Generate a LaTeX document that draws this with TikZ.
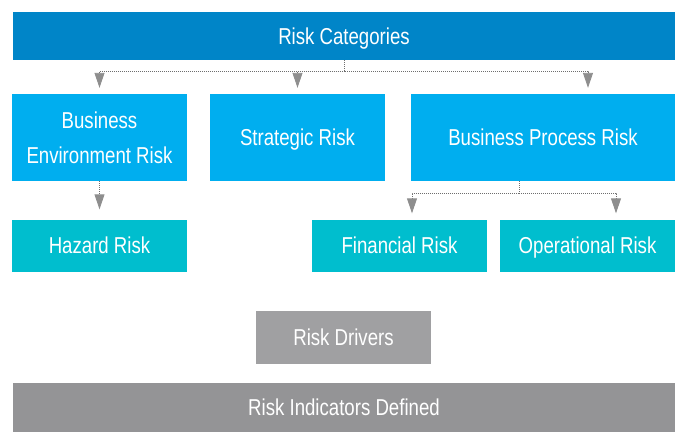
\documentclass[tikz,border=0pt]{standalone}
\usepackage{fontspec}
\setmainfont{Liberation Sans}[FakeStretch=0.81]
\usetikzlibrary{arrows.meta}
\definecolor{catblue}{HTML}{0085C8}
\definecolor{riskblue}{HTML}{00AEEF}
\definecolor{riskteal}{HTML}{00BECE}
\definecolor{drivergray}{HTML}{A0A0A2}
\definecolor{indgray}{HTML}{949496}
\definecolor{linkgray}{HTML}{6E6E6E}
\definecolor{tipgray}{HTML}{8E8E8E}
\begin{document}
\begin{tikzpicture}[x=1pt, y=-1pt,
    box/.style={fill=#1, text=white, inner sep=0pt, align=center, text height=16.5pt, text depth=0pt,
        font=\fontsize{23}{35}\selectfont},
    link/.style={draw=linkgray, line width=0.9pt, dash pattern=on 1pt off 1pt,
        -{Triangle[width=10pt,length=15pt,color=tipgray]}, shorten >=6pt}]
    \useasboundingbox (0,0) rectangle (682,432);

    % Categorie
    \node[box=catblue, minimum width=662pt, minimum height=48pt] (cat) at (344,36) {Risk Categories};

    % Primo livello
    \node[box=riskblue, minimum width=175pt, minimum height=87pt, text height=51.5pt] (ber) at (99.5,137.5) {Business\\Environment Risk};
    \node[box=riskblue, minimum width=175pt, minimum height=87pt] (str) at (297.5,137.5) {Strategic Risk};
    \node[box=riskblue, minimum width=264pt, minimum height=87pt] (bpr) at (543,137.5) {Business Process Risk};

    % Secondo livello
    \node[box=riskteal, minimum width=175pt, minimum height=52pt] (haz) at (99.5,245.5) {Hazard Risk};
    \node[box=riskteal, minimum width=175pt, minimum height=52pt] (fin) at (399.5,245.5) {Financial Risk};
    \node[box=riskteal, minimum width=175pt, minimum height=52pt] (ope) at (587.5,245.5) {Operational Risk};

    % Driver e indicatori
    \node[box=drivergray, minimum width=175pt, minimum height=53pt] (drv) at (343.5,337.5) {Risk Drivers};
    \node[box=indgray, minimum width=662pt, minimum height=49pt] (ind) at (344,407.5) {Risk Indicators Defined};

    % Punti di attacco
    \coordinate (bprin) at ([xshift=45pt]bpr.north);
    \coordinate (bprout) at ([xshift=-24pt]bpr.south);
    \coordinate (finin) at ([xshift=12.5pt]fin.north);
    \coordinate (opein) at ([xshift=28.5pt]ope.north);

    % Collegamenti
    \foreach \target in {ber, str}
        \draw[link] (cat.south) -- ++(0,11) -| (\target.north);
    \draw[link] (cat.south) -- ++(0,11) -| (bprin);
    \draw[link, shorten >=10pt] (ber.south) -- (haz.north);
    \foreach \target in {finin, opein}
        \draw[link] (bprout) -- ++(0,12) -| (\target);
\end{tikzpicture}
\end{document}
